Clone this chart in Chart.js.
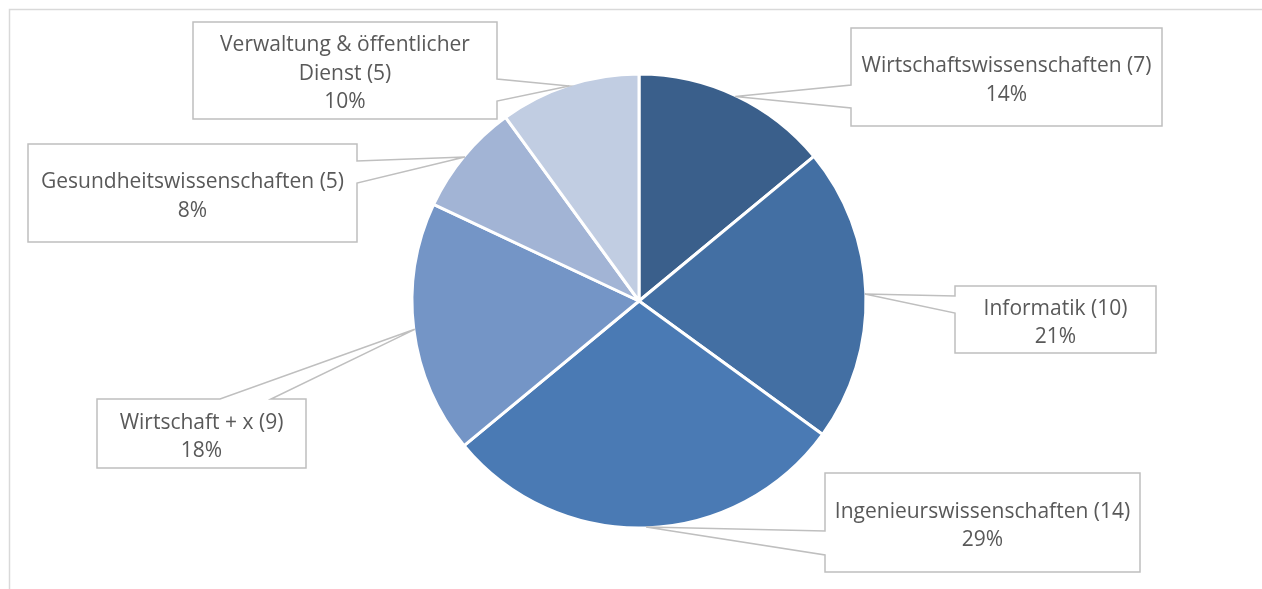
<!DOCTYPE html>
<html>
<head>
<meta charset="utf-8">
<script src="https://cdn.jsdelivr.net/npm/chart.js@4.4.1/dist/chart.umd.min.js"></script>
<style>
  html, body { margin: 0; padding: 0; background: #fff; }
  #wrap { position: relative; width: 1262px; height: 589px; }
  canvas { display: block; }
</style>
</head>
<body>
<div id="wrap"><canvas id="mycanvas" width="1262" height="589"></canvas></div>
<script>
// Studienbereiche: Anzahl und Anteil
var categories = ['Wirtschaftswissenschaften', 'Informatik', 'Ingenieurswissenschaften',
  'Wirtschaft + x', 'Gesundheitswissenschaften', 'Verwaltung & öffentlicher Dienst'];
var counts = [7, 10, 14, 9, 5, 5];
var percents = [14, 21, 29, 18, 8, 10];
var colors = ['#3a5f8b', '#436fa3', '#4a7ab4', '#7495c6', '#a2b4d5', '#c1cde2'];

// callout boxes, one per slice; side = edge the pointer leaves from
var callouts = [
  {x: 851, y: 28, w: 311, h: 98, side: 'left', a: 85, b: 108},
  {x: 955, y: 286, w: 201, h: 67, side: 'left', a: 296, b: 313},
  {x: 825, y: 473, w: 315, h: 99, side: 'left', a: 531, b: 555},
  {x: 97, y: 399, w: 209, h: 69, side: 'top', a: 220, b: 271},
  {x: 28, y: 144, w: 329, h: 98, side: 'right', a: 161, b: 183},
  {x: 193, y: 22, w: 304, h: 97, side: 'right', a: 79, b: 101}
];

var labelFont = '21px "Open Sans"';
var lineH = 28.5;

function wrapText(ctx, text, maxW) {
  var words = text.split(' ');
  var lines = [];
  var cur = '';
  for (var i = 0; i < words.length; i++) {
    var test = cur ? cur + ' ' + words[i] : words[i];
    if (cur && ctx.measureText(test).width > maxW) {
      lines.push(cur);
      cur = words[i];
    } else {
      cur = test;
    }
  }
  if (cur) lines.push(cur);
  return lines;
}

var calloutPlugin = {
  id: 'callouts',
  afterDraw: function(chart) {
    var ctx = chart.ctx;
    var meta = chart.getDatasetMeta(0);
    ctx.save();
    meta.data.forEach(function(arc, i) {
      var p = arc.getProps(['x', 'y', 'startAngle', 'endAngle', 'outerRadius'], true);
      var mid = (p.startAngle + p.endAngle) / 2;
      var tx = p.x + Math.cos(mid) * (p.outerRadius - 1);
      var ty = p.y + Math.sin(mid) * (p.outerRadius - 1);
      var c = callouts[i];
      var x0 = c.x, y0 = c.y, x1 = c.x + c.w, y1 = c.y + c.h;

      ctx.beginPath();
      ctx.moveTo(x0, y0);
      if (c.side === 'top') { ctx.lineTo(c.a, y0); ctx.lineTo(tx, ty); ctx.lineTo(c.b, y0); }
      ctx.lineTo(x1, y0);
      if (c.side === 'right') { ctx.lineTo(x1, c.a); ctx.lineTo(tx, ty); ctx.lineTo(x1, c.b); }
      ctx.lineTo(x1, y1);
      ctx.lineTo(x0, y1);
      if (c.side === 'left') { ctx.lineTo(x0, c.b); ctx.lineTo(tx, ty); ctx.lineTo(x0, c.a); }
      ctx.closePath();
      ctx.fillStyle = '#ffffff';
      ctx.fill();
      ctx.strokeStyle = '#bfbfbf';
      ctx.lineWidth = 1.5;
      ctx.lineJoin = 'miter';
      ctx.stroke();

      ctx.font = labelFont;
      ctx.fillStyle = '#595959';
      ctx.textAlign = 'center';
      ctx.textBaseline = 'middle';
      var lines = wrapText(ctx, categories[i] + ' (' + counts[i] + ')', c.w - 6);
      lines.push(percents[i] + '%');
      var cx = c.x + c.w / 2;
      var top = c.y + c.h / 2 + 3.5 - (lines.length - 1) * lineH / 2;
      lines.forEach(function(line, k) {
        ctx.fillText(line, cx, top + k * lineH);
      });
    });
    ctx.restore();
  }
};

// light frame of the chart area (only top and left edges are in view)
var framePlugin = {
  id: 'frame',
  beforeDraw: function(chart) {
    var ctx = chart.ctx;
    ctx.save();
    ctx.fillStyle = '#ffffff';
    ctx.fillRect(0, 0, chart.width, chart.height);
    ctx.strokeStyle = '#d9d9d9';
    ctx.lineWidth = 1.5;
    ctx.beginPath();
    ctx.moveTo(9.5, chart.height);
    ctx.lineTo(9.5, 9.5);
    ctx.lineTo(chart.width, 9.5);
    ctx.stroke();
    ctx.restore();
  }
};

var ctx = document.getElementById('mycanvas');
var pieChart = new Chart(ctx, {
  type: 'pie',
  data: {
    labels: categories,
    datasets: [{
      data: percents,
      backgroundColor: colors,
      borderColor: '#ffffff',
      borderWidth: 3,
      hoverOffset: 0
    }]
  },
  options: {
    responsive: false,
    animation: false,
    devicePixelRatio: 1,
    radius: 227,
    layout: { padding: { left: 16, top: 13, right: 0, bottom: 0 } },
    plugins: {
      legend: { display: false },
      tooltip: { enabled: false }
    },
    events: []
  },
  plugins: [framePlugin, calloutPlugin]
});
</script>
</body>
</html>
